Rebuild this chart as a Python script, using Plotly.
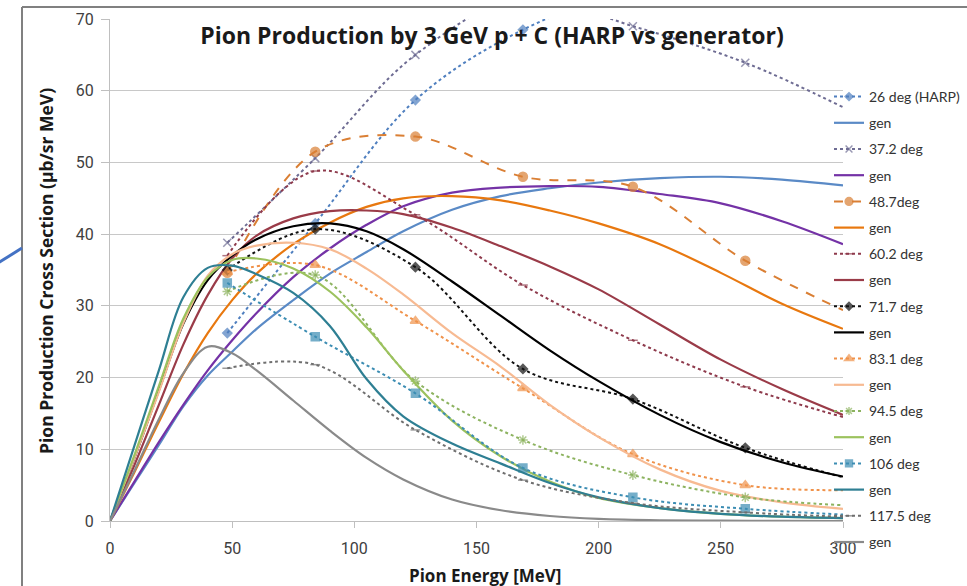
import plotly.graph_objects as go

# HARP measurement energies (MeV); the last entry carries no marker
harp_energy = [48, 84, 125, 169, 214, 260, 300]

harp_26 = [26.2, 41.5, 58.7, 68.5, 74.0, 76.0, 76.0]
harp_37 = [38.8, 50.6, 65.0, 73.0, 69.0, 63.9, 57.7]
harp_48 = [34.6, 51.5, 53.6, 48.0, 46.6, 36.3, 29.4]
harp_60 = [37.0, 48.8, 42.7, 32.9, 25.2, 18.7, 14.5]
harp_71 = [35.0, 40.7, 35.4, 21.2, 17.0, 10.2, 6.1]
harp_83 = [34.7, 35.7, 27.9, 18.5, 9.3, 5.0, 4.3]
harp_94 = [32.0, 34.3, 19.5, 11.3, 6.4, 3.3, 2.2]
harp_106 = [33.2, 25.7, 17.8, 7.4, 3.3, 1.7, 0.9]
harp_117 = [21.3, 21.8, 12.7, 5.7, 2.5, 1.2, 0.6]

# Generator curves, sampled energies (MeV) and cross sections
gen_energy = [0, 10, 20, 30, 40, 50, 60, 75, 90, 105, 120, 140, 160, 180, 200, 225, 250, 275, 300]

gen_26 = [0, 5.3, 10.6, 16.0, 20.3, 23.6, 26.8, 30.8, 34.5, 37.5, 40.4, 43.4, 45.3, 46.4, 47.2, 47.8, 48.0, 47.6, 46.8]
gen_37 = [0, 5.5, 11.0, 16.2, 21.0, 25.2, 29.0, 34.0, 38.0, 41.3, 43.9, 45.8, 46.5, 46.7, 46.6, 45.6, 44.3, 41.8, 38.6]
gen_48 = [0, 6.8, 13.8, 20.5, 26.2, 30.8, 34.5, 38.6, 41.6, 43.8, 45.0, 45.3, 44.7, 43.3, 41.5, 38.6, 34.6, 30.3, 26.8]
gen_60 = [0, 7.8, 16.2, 24.6, 31.5, 36.6, 39.8, 42.2, 43.2, 43.3, 42.8, 40.9, 38.3, 35.5, 32.3, 27.4, 22.5, 18.4, 14.8]
gen_71 = [0, 8.8, 18.2, 27.5, 33.6, 37.0, 39.3, 41.1, 41.5, 40.4, 37.9, 33.4, 28.6, 23.8, 19.5, 14.8, 11.0, 8.2, 6.2]
gen_83 = [0, 8.8, 18.0, 27.6, 34.2, 37.2, 38.4, 38.8, 37.9, 35.2, 31.6, 26.2, 21.5, 16.2, 11.7, 7.2, 4.2, 2.6, 1.7]
gen_94 = [0, 9.2, 18.8, 28.2, 34.0, 36.4, 36.6, 35.2, 32.0, 27.0, 21.0, 14.0, 9.0, 5.5, 3.2, 1.8, 1.0, 0.6, 0.4]
gen_106 = [0, 10.5, 21.0, 31.2, 35.3, 35.6, 34.4, 31.8, 27.2, 19.8, 14.6, 10.8, 8.0, 5.3, 3.3, 1.8, 1.0, 0.6, 0.4]
gen_117 = [0, 7.0, 14.2, 20.6, 24.3, 23.4, 21.0, 16.8, 12.6, 8.8, 5.8, 3.0, 1.5, 0.7, 0.3, 0.1, 0.05, 0.02, 0.0]

harp_labels = ["26 deg (HARP)", "37.2 deg", "48.7deg", "60.2 deg", "71.7 deg",
               "83.1 deg", "94.5 deg", "106 deg", "117.5 deg"]
harp_series = [harp_26, harp_37, harp_48, harp_60, harp_71, harp_83, harp_94, harp_106, harp_117]
gen_series = [gen_26, gen_37, gen_48, gen_60, gen_71, gen_83, gen_94, gen_106, gen_117]

# Styles for the measured (dotted, with markers) and generated (solid) curves
harp_styles = [
    dict(color="#4F7FBF", dash="dot", symbol="diamond", size=7),
    dict(color="#6E6C93", dash="dot", symbol="x-thin-open", size=8),
    dict(color="#DA7F34", dash="dash", symbol="circle", size=9),
    dict(color="#8E3A4C", dash="dot", symbol="line-ew-open", size=7),
    dict(color="#111111", dash="dot", symbol="diamond", size=7),
    dict(color="#F0924A", dash="dot", symbol="triangle-up", size=9),
    dict(color="#8DB360", dash="dot", symbol="asterisk-open", size=8),
    dict(color="#3C8DB3", dash="dot", symbol="square", size=8),
    dict(color="#6F6F6F", dash="dot", symbol="line-ew-open", size=7),
]
gen_colors = ["#5A8AC6", "#7432A6", "#E8780F", "#9A3B48", "#000000",
              "#F7BA92", "#9CC25E", "#2E7F93", "#8A8A8A"]

fig = go.Figure()
for i in range(9):
    st = harp_styles[i]
    sizes = [st["size"]] * (len(harp_energy) - 1) + [0]
    fig.add_trace(go.Scatter(
        x=harp_energy, y=harp_series[i], name=harp_labels[i],
        legendgroup=f"h{i}", mode="lines+markers",
        line=dict(color=st["color"], dash=st["dash"], width=2, shape="spline", smoothing=1),
        marker=dict(symbol=st["symbol"], size=sizes, color=st["color"],
                    line=dict(color=st["color"], width=1.5)),
    ))
    fig.add_trace(go.Scatter(
        x=gen_energy, y=gen_series[i], name="gen",
        legendgroup=f"g{i}", mode="lines",
        line=dict(color=gen_colors[i], width=2.2, shape="spline", smoothing=1),
    ))

tick_font = dict(family="Liberation Sans Narrow, Arial Narrow, Roboto, sans-serif", size=16, color="#404040")
bold_font = "Open Sans, Lato, sans-serif"

fig.update_layout(
    width=967, height=586,
    margin=dict(l=110, r=124, t=19, b=65, autoexpand=False),
    paper_bgcolor="white", plot_bgcolor="white",
    title=dict(text="<b>Pion Production by 3 GeV p + C (HARP vs generator)</b>",
               x=(492 - 110) / 733, xref="paper", xanchor="center",
               y=1 - 36 / 586, yref="container", yanchor="middle",
               font=dict(family=bold_font, size=23, color="#1a1a1a")),
    legend=dict(x=(829 - 110) / 733, xanchor="left", y=(521 - 81) / 502, yanchor="top",
                bgcolor="rgba(0,0,0,0)", borderwidth=0,
                tracegroupgap=5, traceorder="grouped",
                font=dict(family="Lato, Open Sans, sans-serif", size=14, color="#333333")),
    showlegend=True,
    xaxis=dict(range=[0, 300], tickvals=[0, 50, 100, 150, 200, 250, 300],
               showgrid=False, zeroline=False, showline=True, linecolor="#bfbfbf", linewidth=1,
               ticks="outside", ticklen=6, tickcolor="#bfbfbf", ticklabelstandoff=7,
               tickfont=tick_font),
    yaxis=dict(range=[0, 70], tickvals=[0, 10, 20, 30, 40, 50, 60, 70],
               showgrid=True, gridcolor="#c8c8c8", gridwidth=1, zeroline=False,
               showline=True, linecolor="#bfbfbf", linewidth=1,
               ticks="outside", ticklen=8, tickcolor="#bfbfbf", ticklabelstandoff=4,
               tickfont=tick_font),
    annotations=[
        dict(text="<b>Pion Energy [MeV]</b>", xref="paper", yref="paper",
             x=(485 - 110) / 733, y=-(575 - 521) / 502, xanchor="center", yanchor="middle",
             showarrow=False, font=dict(family=bold_font, size=17, color="#1a1a1a")),
        dict(text="<b>Pion Production Cross Section (\u00b5b/sr MeV)</b>", xref="paper", yref="paper",
             x=-(110 - 46) / 733, y=(521 - 271) / 502, xanchor="center", yanchor="middle",
             textangle=-90, showarrow=False,
             font=dict(family=bold_font, size=17.5, color="#1a1a1a")),
    ],
    shapes=[
        # surrounding frame
        dict(type="line", xref="paper", yref="paper",
             x0=(22 - 110) / 733, x1=(22 - 110) / 733, y0=(521 - 7) / 502, y1=-(600 - 521) / 502,
             line=dict(color="#808080", width=2)),
        dict(type="line", xref="paper", yref="paper",
             x0=(22 - 110) / 733, x1=(980 - 110) / 733, y0=(521 - 7) / 502, y1=(521 - 7) / 502,
             line=dict(color="#808080", width=2)),
        # connector stroke entering from the left
        dict(type="line", xref="paper", yref="paper",
             x0=(-5 - 110) / 733, x1=(22 - 110) / 733, y0=(521 - 265) / 502, y1=(521 - 248) / 502,
             line=dict(color="#4472C4", width=3)),
    ],
)

fig.write_html("out.html")
